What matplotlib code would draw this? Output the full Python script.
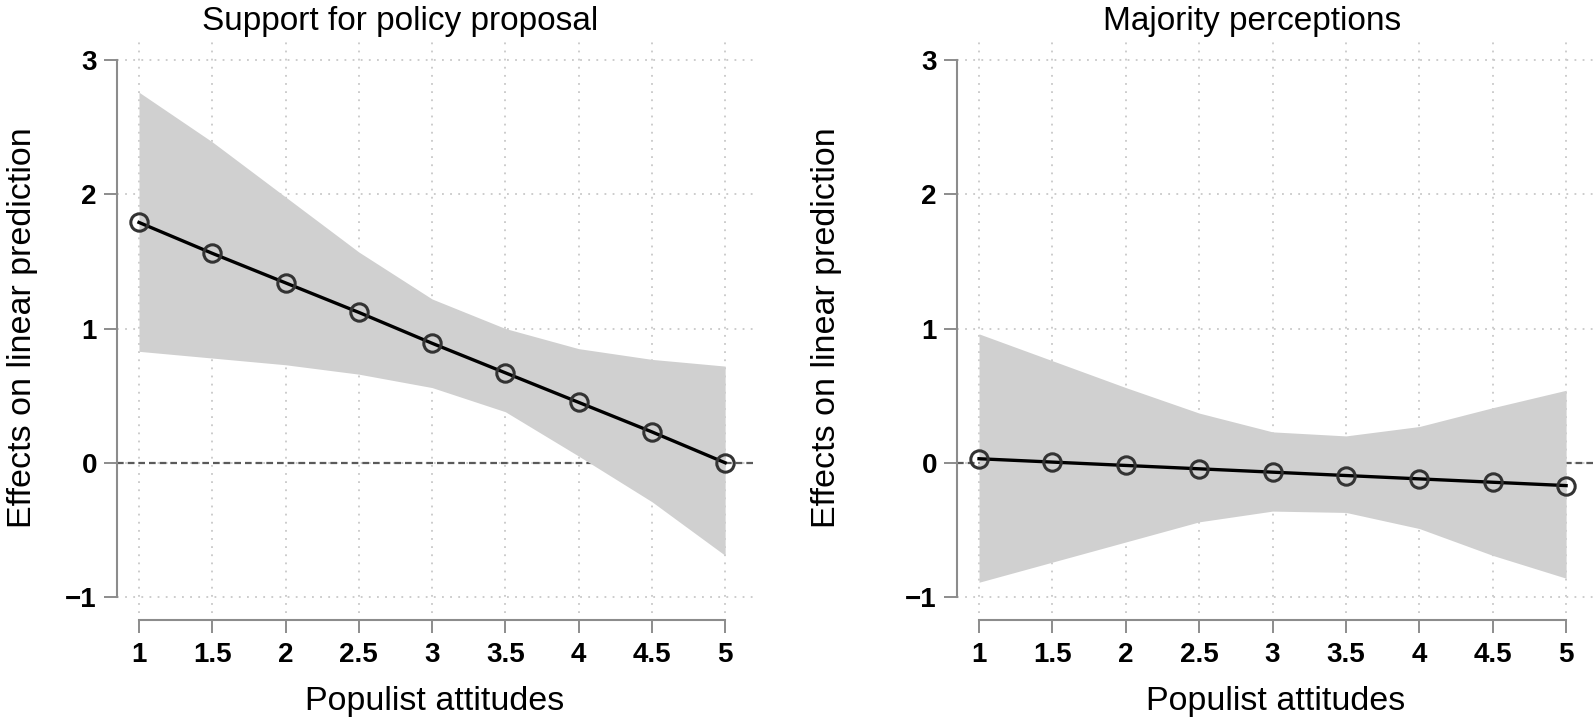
import matplotlib
matplotlib.use("Agg")
import matplotlib.pyplot as plt

plt.rcParams['font.family'] = ['Liberation Sans', 'DejaVu Sans']

# populist attitudes (x values)
populism = [1, 1.5, 2, 2.5, 3, 3.5, 4, 4.5, 5]
xtick_labels = ["1", "1.5", "2", "2.5", "3", "3.5", "4", "4.5", "5"]
yticks = [-1, 0, 1, 2, 3]

# panel 1: support for policy proposal
support_est = [1.79, 1.56, 1.34, 1.12, 0.89, 0.67, 0.45, 0.23, 0.00]
support_lo = [0.83, 0.78, 0.73, 0.66, 0.56, 0.38, 0.05, -0.29, -0.69]
support_hi = [2.76, 2.39, 1.98, 1.57, 1.22, 1.00, 0.85, 0.77, 0.72]

# panel 2: majority perceptions
majority_est = [0.03, 0.005, -0.02, -0.045, -0.07, -0.095, -0.12, -0.145, -0.17]
majority_lo = [-0.89, -0.74, -0.59, -0.44, -0.36, -0.37, -0.49, -0.69, -0.86]
majority_hi = [0.96, 0.76, 0.56, 0.37, 0.23, 0.20, 0.27, 0.41, 0.54]

titles = ["Support for policy proposal", "Majority perceptions"]

W, H = 1594, 727
fig = plt.figure(figsize=(W / 100, H / 100), dpi=100)
ax1 = fig.add_axes([117 / W, 1 - 613 / H, 636 / W, 571 / H])
ax2 = fig.add_axes([957 / W, 1 - 613 / H, 637 / W, 571 / H])

axis_gray = '#8c8c8c'

# (axes, estimates, lower, upper, ylabel x, title x)
panels = [
    (ax1, support_est, support_lo, support_hi, -0.124, 0.445),
    (ax2, majority_est, majority_lo, majority_hi, -0.180, 0.464),
]

for i, (ax, est, lo, hi, ylab_x, title_x) in enumerate(panels):
    ax.set_axisbelow(True)
    ax.grid(True, color='#c8c8c8', linestyle=(0, (1, 3.5)), linewidth=1.3)
    ax.axhline(0, color='#5a5a5a', linewidth=1.6, linestyle=(0, (3, 1.8)), zorder=1)
    ax.fill_between(populism, lo, hi, color='#d0d0d0', linewidth=0, zorder=2)
    ax.plot(populism, est, color='black', linewidth=2.4, zorder=3)
    ax.plot(populism, est, linestyle='none', marker='o', markersize=12.5,
            markerfacecolor='none', markeredgecolor='#333333', markeredgewidth=2.2, zorder=4)

    ax.set_xlim(0.85, 5.19)
    ax.set_ylim(-1.119, 3.134)
    ax.set_xticks(populism)
    ax.set_xticklabels(xtick_labels)
    ax.set_yticks(yticks)

    for side in ['top', 'right']:
        ax.spines[side].set_visible(False)
    for side in ['left', 'bottom']:
        ax.spines[side].set_color(axis_gray)
        ax.spines[side].set_linewidth(1.5)
    ax.spines['left'].set_bounds(-1, 3)
    ax.spines['bottom'].set_bounds(1, 5)
    ax.spines['bottom'].set_position(('outward', 5))

    ax.tick_params(axis='both', direction='out', length=9.4, width=1.4, color=axis_gray,
                   labelsize=20, labelcolor='black')
    ax.tick_params(axis='x', pad=6.5)
    ax.tick_params(axis='y', pad=5)
    for lab in ax.get_xticklabels() + ax.get_yticklabels():
        lab.set_fontweight('bold')

    ax.set_title(titles[i], fontsize=24, pad=9, x=title_x)
    ax.set_xlabel("Populist attitudes", fontsize=24.5, labelpad=13)
    ax.set_ylabel("Effects on linear prediction", fontsize=24.5)
    ax.yaxis.set_label_coords(ylab_x, 0.5)

fig.savefig("out.png", dpi=100)
